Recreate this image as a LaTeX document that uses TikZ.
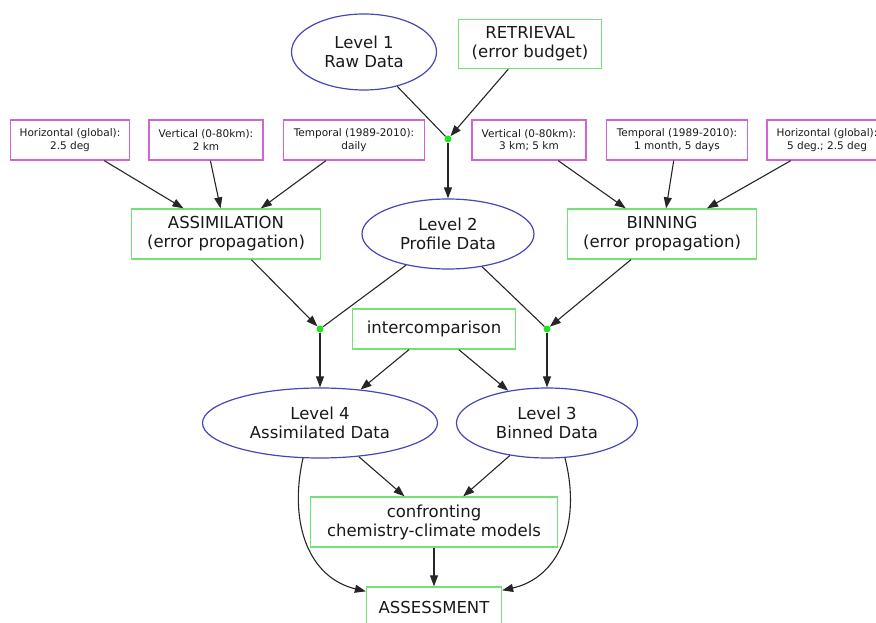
\documentclass[tikz,border=0pt]{standalone}
\usepackage{fontspec}
\setmainfont{DejaVu Sans}
\usetikzlibrary{shapes.geometric,arrows.meta,calc}
\definecolor{txt}{RGB}{25,25,25}
\definecolor{ellc}{RGB}{70,70,185}
\definecolor{gc}{RGB}{115,225,115}
\definecolor{mc}{RGB}{210,100,210}
\definecolor{dotc}{RGB}{30,230,30}
\tikzset{
 lbl/.style={font=\fontsize{16.5}{19}\selectfont, text=txt, align=center, inner sep=0pt},
 ell/.style={lbl, ellipse, draw=ellc, line width=1.2pt},
 gbox/.style={lbl, rectangle, draw=gc, line width=1.3pt},
 mbox/.style={font=\fontsize{10.5}{12.5}\selectfont, text=txt, align=center, rectangle, draw=mc, line width=1.3pt, inner sep=0pt, minimum height=40pt},
 dotn/.style={circle, fill=dotc, inner sep=0pt, minimum size=7pt},
 edge/.style={line width=1.1pt, draw=black!85},
 arr/.style={edge, -{Triangle[length=11pt,width=8pt]}},
}
\begin{document}
\begin{tikzpicture}[x=1pt,y=1pt]
\useasboundingbox (0,0) rectangle (876,-623);
\clip (0,0) rectangle (876,-623);
% top
\node[ell, minimum width=145pt, minimum height=76pt] (L1) at (364,-52) {Level 1\\Raw Data};
\node[gbox, minimum width=143pt, minimum height=49pt] (RET) at (530,-44) {RETRIEVAL\\(error budget)};
\node[dotn] (D0) at (448,-139) {};
% parameter boxes
\node[mbox, minimum width=119pt] (H1) at (70,-140) {Horizontal (global):\\2.5 deg};
\node[mbox, minimum width=114pt] (V1) at (206,-140) {Vertical (0-80km):\\2 km};
\node[mbox, minimum width=141pt] (T1) at (354,-140) {Temporal (1989-2010):\\daily};
\node[mbox, minimum width=114pt] (V2) at (529,-140) {Vertical (0-80km):\\3 km; 5 km};
\node[mbox, minimum width=141pt] (T2) at (677,-140) {Temporal (1989-2010):\\1 month, 5 days};
\node[mbox, minimum width=120pt] (H2) at (827,-140) {Horizontal (global):\\5 deg.; 2.5 deg};
% middle
\node[gbox, minimum width=189pt, minimum height=50pt] (ASM) at (226,-234) {ASSIMILATION\\(error propagation)};
\node[ell, minimum width=172pt, minimum height=70pt] (L2) at (448,-234) {Level 2\\Profile Data};
\node[gbox, minimum width=189pt, minimum height=50pt] (BIN) at (662,-234) {BINNING\\(error propagation)};
\node[dotn] (DL) at (320,-329) {};
\node[dotn] (DR) at (547,-329) {};
\node[gbox, minimum width=163pt, minimum height=40pt] (IC) at (434,-329) {intercomparison};
% lower
\node[ell, minimum width=235pt, minimum height=70pt] (L4) at (320,-423) {Level 4\\Assimilated Data};
\node[ell, minimum width=181pt, minimum height=70pt] (L3) at (547,-423) {Level 3\\Binned Data};
\node[gbox, minimum width=247pt, minimum height=50pt] (CCM) at (434,-522) {confronting\\chemistry-climate models};
\node[gbox, minimum width=135pt, minimum height=40pt] (AS) at (434,-607) {ASSESSMENT};
% edges
\draw[edge] (L1) -- (D0);
\draw[arr] (RET) -- (D0);
\draw[arr] (D0) -- (L2);
\draw[arr] (H1) -- (ASM);
\draw[arr] (V1) -- (ASM);
\draw[arr] (T1) -- (ASM);
\draw[arr] (V2) -- (BIN);
\draw[arr] (T2) -- (BIN);
\draw[arr] (H2) -- (BIN);
\draw[arr] (ASM) -- (DL);
\draw[edge] (L2) -- (DL);
\draw[arr] (BIN) -- (DR);
\draw[edge] (L2) -- (DR);
\draw[arr] (DL) -- (L4);
\draw[arr] (DR) -- (L3);
\draw[arr] (IC) -- (L4);
\draw[arr] (IC) -- (L3);
\draw[arr] (L4) -- (CCM);
\draw[arr] (L3) -- (CCM);
\draw[arr] (CCM) -- (AS);
\coordinate (L4s) at ($(L4.south)+(-17,0.5)$);
\coordinate (L3s) at ($(L3.south)+(18,0.5)$);
\coordinate (ASw) at ($(AS.north west)+(0,-5)$);
\coordinate (ASe) at ($(AS.north east)+(0,-4)$);
\draw[arr] (L4s) .. controls (288,-525) and (310,-578) .. (ASw);
\draw[arr] (L3s) .. controls (582,-525) and (558,-578) .. (ASe);
\end{tikzpicture}
\end{document}
